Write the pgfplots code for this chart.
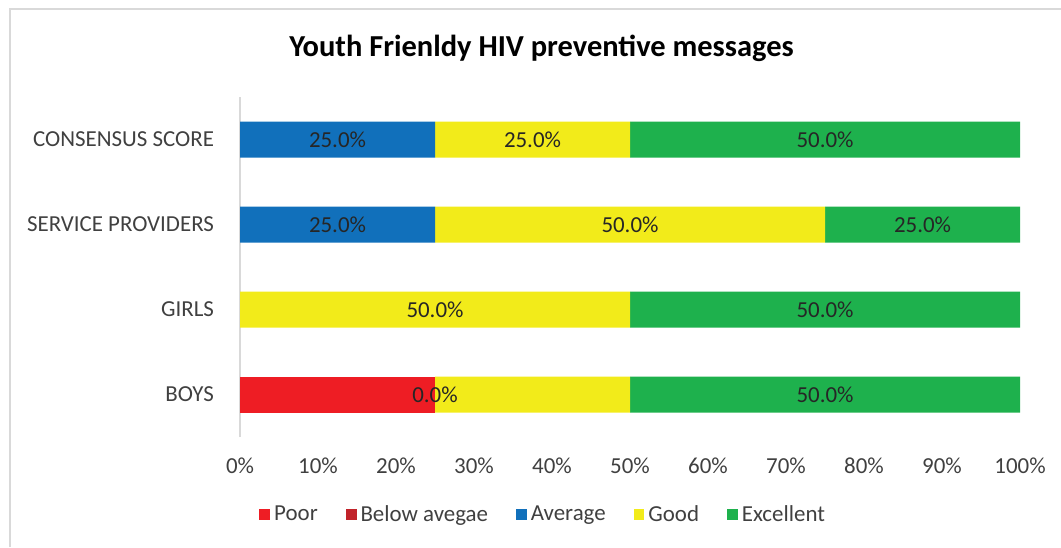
\documentclass[border=0pt]{standalone}
\usepackage{pgfplots}
\pgfplotsset{compat=1.18}
\usepackage{pgfplotstable}
\usepackage{fontspec}
\setmainfont{Carlito}

\definecolor{cpoor}{HTML}{EE1D24}
\definecolor{cbelow}{HTML}{C1232A}
\definecolor{cavg}{HTML}{1170BB}
\definecolor{cgood}{HTML}{F2EB1A}
\definecolor{cexc}{HTML}{1EB14D}
\definecolor{lframe}{HTML}{D9D9D9}
\definecolor{txt}{HTML}{404040}

% y: 0 = BOYS ... 3 = CONSENSUS SCORE; *s columns: 1 = print the segment's value
\pgfplotstableread{
y poor ps below bs avg as good gs exc es
0 25   0  0     1  0   0  25   0  50  1
1 0    0  0     0  0   0  50   1  50  1
2 0    0  0     0  25  1  50   1  25  1
3 0    0  0     0  25  1  25   1  50  1
}\ratings

\tikzset{labelfont/.style={font=\fontsize{11.5}{13}\selectfont}}
\pgfplotsset{
  panel/.style={
    at={(120bp,55bp)}, anchor=south west,
    width=390bp, height=170bp, scale only axis,
    xmin=0, xmax=100, ymin=-0.5, ymax=3.5},
}

\begin{document}
\begin{tikzpicture}[x=1bp,y=1bp]
\path[use as bounding box] (0,0) rectangle (530.5,273.5);
\draw[lframe, line width=1.2bp] (5,0) -- (5,269) -- (530.5,269);
\node[font=\bfseries\fontsize{15.3}{18}\selectfont] at (270.75,249.5) {Youth Frienldy HIV preventive messages};
\begin{axis}[
  panel,
  xbar stacked, bar width=18bp,
  axis x line*=bottom, axis y line*=left,
  x axis line style={draw=none},
  y axis line style={draw=lframe, line width=1.2bp},
  major tick length=0,
  xtick={0,10,...,100},
  xticklabels={0\%,10\%,20\%,30\%,40\%,50\%,60\%,70\%,80\%,90\%,100\%},
  ytick={0,1,2,3},
  yticklabels={BOYS,GIRLS,SERVICE PROVIDERS,CONSENSUS SCORE},
  xticklabel style={labelfont, text=txt, yshift=-7bp},
  yticklabel style={labelfont, text=txt, xshift=-9.5bp},
  point meta=explicit symbolic,
  visualization depends on={rawx \as \segval},
  nodes near coords={\ifnum\pgfplotspointmeta=1\relax\pgfmathprintnumber[fixed,fixed zerofill,precision=1,assume math mode=true]{\segval}\%\fi},
  every node near coord/.append style={anchor=center, labelfont, text=black!85},
  legend columns=5,
  legend style={at={(0.39,-0.229)}, anchor=center, draw=none, fill=none,
     labelfont, text=txt,
     /tikz/every even column/.append style={column sep=12bp}},
  legend image code/.code={\fill[#1] (0bp,-2.7bp) rectangle (5.4bp,2.7bp);},
]
\addplot[fill=cpoor, draw=none] table[x=poor, y=y, meta=ps] {\ratings};
\addplot[fill=cbelow, draw=none] table[x=below, y=y, meta=bs] {\ratings};
\addplot[fill=cavg, draw=none] table[x=avg, y=y, meta=as] {\ratings};
\addplot[fill=cgood, draw=none] table[x=good, y=y, meta=gs] {\ratings};
\addplot[fill=cexc, draw=none] table[x=exc, y=y, meta=es] {\ratings};
\legend{Poor, Below avegae, Average, Good, Excellent}
\end{axis}
% the zero-width "Below average" segment of BOYS (Poor 25 + 0): its label sits on the bar
\begin{axis}[panel, hide axis,
  point meta=explicit symbolic,
  nodes near coords={\pgfmathprintnumber[fixed,fixed zerofill,precision=1,assume math mode=true]{\pgfplotspointmeta}\%},
  every node near coord/.style={anchor=center, labelfont, text=black!85},
]
\addplot[draw=none, mark=none] coordinates {(25,0) [0]};
\end{axis}
\end{tikzpicture}
\end{document}
